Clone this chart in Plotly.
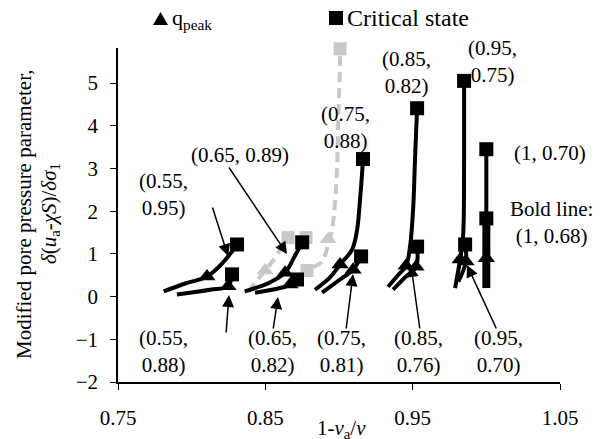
import plotly.graph_objects as go

# ---- data ----
# black curves: points from the start of shearing to the critical state
c055_095_x = [0.781, 0.795, 0.8104, 0.8213, 0.8308]
c055_095_y = [0.12, 0.30, 0.47, 0.80, 1.22]
c055_088_x = [0.790, 0.8125, 0.8247, 0.8274]
c055_088_y = [0.05, 0.16, 0.24, 0.52]
c065_089_x = [0.836, 0.853, 0.8634, 0.870, 0.875]
c065_089_y = [0.12, 0.33, 0.56, 0.95, 1.27]
c065_082_x = [0.843, 0.860, 0.8668, 0.8715]
c065_082_y = [0.09, 0.20, 0.28, 0.40]
c075_088_x = [0.8837, 0.8939, 0.9007, 0.9089, 0.9123, 0.9143, 0.9156, 0.9163]
c075_088_y = [0.16, 0.45, 0.75, 1.10, 1.57, 2.28, 2.86, 3.22]
c075_081_x = [0.8885, 0.9007, 0.9096, 0.915]
c075_081_y = [0.09, 0.40, 0.63, 0.94]
c085_082_x = [0.9333, 0.940, 0.9455, 0.9482, 0.9503, 0.9516, 0.953]
c085_082_y = [0.23, 0.50, 0.72, 1.17, 2.04, 3.22, 4.41]
c085_076_x = [0.9367, 0.9448, 0.9523, 0.953]
c085_076_y = [0.16, 0.45, 0.70, 1.17]
c095_075_x = [0.9788, 0.9822, 0.9842, 0.9849, 0.9849]
c095_075_y = [0.20, 0.87, 1.41, 3.22, 5.05]
c095_070_x = [0.9810, 0.9862, 0.9856]
c095_070_y = [0.35, 0.82, 1.22]
c1_070_x = [1.0, 1.0, 1.0]
c1_070_y = [0.20, 0.90, 3.45]
c1_068_x = [1.0, 1.0, 1.0]
c1_068_y = [0.20, 0.90, 1.83]

# q_peak points (black triangles)
peak_x = [0.8104, 0.8247, 0.8634, 0.8668, 0.9007, 0.9096, 0.9455, 0.9523, 0.9822, 0.9862, 1.0]
peak_y = [0.47, 0.24, 0.56, 0.28, 0.75, 0.63, 0.72, 0.70, 0.87, 0.82, 0.90]
# critical state points (black squares)
crit_x = [0.8308, 0.8274, 0.875, 0.8715, 0.9163, 0.915, 0.953, 0.953, 0.9849, 0.9856, 1.0, 1.0]
crit_y = [1.22, 0.52, 1.27, 0.40, 3.22, 0.94, 4.41, 1.17, 5.05, 1.22, 3.45, 1.83]

# grey dashed curves and their markers
g1_x = [0.8383, 0.8498, 0.8573, 0.862, 0.8654]
g1_y = [0.12, 0.61, 0.94, 1.22, 1.38]
g2_x = [0.8736, 0.8824, 0.8885, 0.8926, 0.8953, 0.8973, 0.8987, 0.8993, 0.9007, 0.9007]
g2_y = [0.47, 0.68, 0.82, 1.22, 1.57, 2.21, 2.98, 3.92, 5.49, 5.80]
grey_peak_x = [0.8498, 0.8926]
grey_peak_y = [0.61, 1.34]
grey_crit_x = [0.8654, 0.8776, 0.8783, 0.9007]
grey_crit_y = [1.38, 1.38, 0.61, 5.80]

x_ticks = [0.75, 0.85, 0.95, 1.05]
x_tick_text = ["0.75", "0.85", "0.95", "1.05"]
y_ticks = [-2, -1, 0, 1, 2, 3, 4, 5]

FONT = "Liberation Serif"
GREY = "#c8c8c8"

# plot area in pixels
L, R, T, B = 118, 560, 48, 382


def px(xp):
    return (xp - L) / (R - L)


def py(yp):
    return (B - yp) / (B - T)


fig = go.Figure()

for gx, gy in [(g1_x, g1_y), (g2_x, g2_y)]:
    fig.add_trace(go.Scatter(x=gx, y=gy, mode="lines",
                             line=dict(color=GREY, width=4, dash="10px,6px", shape="spline"),
                             showlegend=False, hoverinfo="skip"))
fig.add_trace(go.Scatter(x=grey_peak_x, y=grey_peak_y, mode="markers", cliponaxis=False,
                         marker=dict(symbol="triangle-up", size=15, color=GREY), showlegend=False))
fig.add_trace(go.Scatter(x=grey_crit_x, y=grey_crit_y, mode="markers", cliponaxis=False,
                         marker=dict(symbol="square", size=13, color=GREY), showlegend=False))

curves = [(c055_095_x, c055_095_y), (c055_088_x, c055_088_y), (c065_089_x, c065_089_y),
          (c065_082_x, c065_082_y), (c075_088_x, c075_088_y), (c075_081_x, c075_081_y),
          (c085_082_x, c085_082_y), (c085_076_x, c085_076_y), (c095_075_x, c095_075_y),
          (c095_070_x, c095_070_y), (c1_070_x, c1_070_y)]
for cx, cy in curves:
    fig.add_trace(go.Scatter(x=cx, y=cy, mode="lines",
                             line=dict(color="black", width=4, shape="spline"),
                             showlegend=False, hoverinfo="skip"))
fig.add_trace(go.Scatter(x=c1_068_x, y=c1_068_y, mode="lines", line=dict(color="black", width=8),
                         showlegend=False, hoverinfo="skip"))

fig.add_trace(go.Scatter(x=peak_x, y=peak_y, mode="markers", cliponaxis=False,
                         marker=dict(symbol="triangle-up", size=15, color="black"), showlegend=False))
fig.add_trace(go.Scatter(x=crit_x, y=crit_y, mode="markers", cliponaxis=False,
                         marker=dict(symbol="square", size=14, color="black"), showlegend=False))


def label(text, xpix, ypix, size=21):
    fig.add_annotation(text=text, x=px(xpix), y=py(ypix), xref="paper", yref="paper",
                       showarrow=False, xanchor="center", yanchor="middle",
                       font=dict(family=FONT, size=size, color="black"), align="center")


def arrow(tx, ty, hx, hy):
    # tail (tx, ty) and head (hx, hy) in pixels
    fig.add_annotation(text="", x=px(hx), y=py(hy), xref="paper", yref="paper",
                       ax=tx - hx, ay=ty - hy, axref="pixel", ayref="pixel",
                       showarrow=True, arrowhead=2, arrowsize=1.6, arrowwidth=1.5,
                       arrowcolor="black")


label("(0.55,<br>0.95)", 163, 194)
label("(0.65, 0.89)", 240, 155)
label("(0.75,<br>0.88)", 345, 127)
label("(0.85,<br>0.82)", 406, 72)
label("(0.95,<br>0.75)", 492, 61)
label("(1, 0.70)", 550, 153)
label("Bold line:<br>(1, 0.68)", 551, 222)
label("(0.55,<br>0.88)", 163, 351)
label("(0.65,<br>0.82)", 272, 351)
label("(0.75,<br>0.81)", 341, 351)
label("(0.85,<br>0.76)", 418, 351)
label("(0.95,<br>0.70)", 498, 351)

arrow(212, 206, 228, 256)
arrow(228, 166, 287, 254)
arrow(226, 334, 229, 295)
arrow(273, 330, 278, 297)
arrow(346, 330, 353, 274)
arrow(420, 330, 411, 265)
arrow(497, 330, 467, 265)

# legend: symbols as shapes, names as text
fig.add_shape(type="path", xref="paper", yref="paper",
              path=f"M {px(153)} {py(25)} L {px(168)} {py(25)} L {px(160.5)} {py(12)} Z",
              fillcolor="black", line=dict(width=0))
fig.add_shape(type="rect", xref="paper", yref="paper",
              x0=px(329), x1=px(343), y0=py(25), y1=py(11),
              fillcolor="black", line=dict(width=0))
fig.add_annotation(text="q<sub>peak</sub>", xref="paper", yref="paper", x=px(170), y=py(19),
                   xanchor="left", yanchor="middle", showarrow=False,
                   font=dict(family=FONT, size=22, color="black"))
fig.add_annotation(text="Critical state", xref="paper", yref="paper", x=px(345), y=py(18),
                   xanchor="left", yanchor="middle", showarrow=False,
                   font=dict(family=FONT, size=24, color="black"))

# axis titles
fig.add_annotation(text="Modified pore pressure parameter,",
                   xref="paper", yref="paper", x=px(24), y=py(214), textangle=-90,
                   showarrow=False, xanchor="center", yanchor="middle",
                   font=dict(family=FONT, size=21, color="black"))
fig.add_annotation(text="<i>δ</i>(<i>u</i><sub>a</sub>-<i>χS</i>)/<i>δσ</i><sub>1</sub>",
                   xref="paper", yref="paper", x=px(50), y=py(214), textangle=-90,
                   showarrow=False, xanchor="center", yanchor="middle",
                   font=dict(family=FONT, size=21, color="black"))
fig.add_annotation(text="1-<i>v</i><sub>a</sub>/<i>v</i>", xref="paper", yref="paper",
                   x=px(341), y=py(414), showarrow=False, xanchor="center", yanchor="top",
                   font=dict(family=FONT, size=21, color="black"))

fig.update_layout(
    width=609, height=439,
    margin=dict(l=L, r=609 - R, t=T, b=439 - B),
    paper_bgcolor="white", plot_bgcolor="white",
    font=dict(family=FONT, size=21, color="black"),
    showlegend=False,
    xaxis=dict(range=[0.75, 1.05], tickvals=x_ticks, ticktext=x_tick_text,
               showgrid=False, zeroline=False, showline=True, linecolor="black", linewidth=1.5,
               ticks="outside", ticklen=6, tickcolor="black", automargin=False,
               ticklabelstandoff=10),
    yaxis=dict(range=[-2, 5.82], tickvals=y_ticks, showgrid=False, zeroline=False, showline=True,
               linecolor="black", linewidth=1.5, ticks="outside", ticklen=6, tickcolor="black",
               automargin=False, ticklabelstandoff=8),
)

fig.write_html("out.html", config={"displayModeBar": False},
               post_script="document.body.style.margin='0';document.body.style.overflow='hidden';")
